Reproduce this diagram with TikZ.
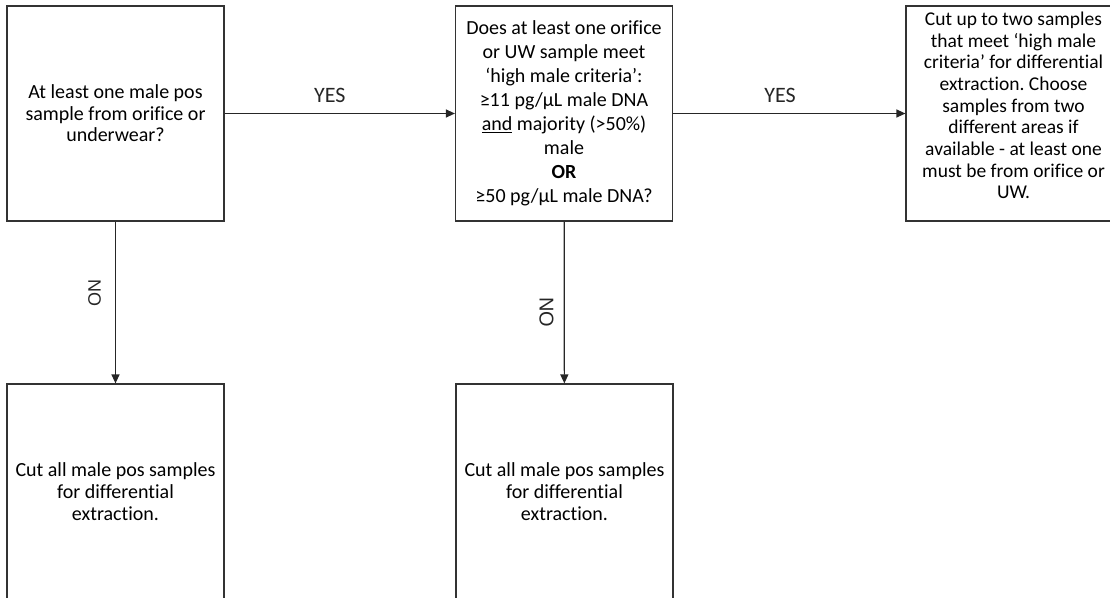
\documentclass[tikz,border=0pt]{standalone}
\usepackage{fontspec}
\setmainfont{Carlito}[Ligatures=CommonOff]
\newfontfamily\nofont{Liberation Sans}
\usetikzlibrary{arrows.meta}
\frenchspacing

\begin{document}
\begin{tikzpicture}[x=1pt, y=-1pt,
    box/.style={draw=black!80, line width=1.2pt, minimum width=217pt, minimum height=215pt, inner sep=0pt, align=center, font=\fontsize{20}{21.5}\selectfont},
    flow/.style={-{Triangle[length=9pt, width=8pt]}, line width=1.2pt, black!85},
    yes/.style={font=\fontsize{22}{26}\selectfont, above=7pt, pos=0.46},
    no/.style={font=\nofont\fontsize{18}{20}\selectfont, rotate=-90, anchor=north}
]
    \useasboundingbox (0,0) rectangle (1110,597);
    \clip (0,0) rectangle (1110,597);

    % Top row
    \node[box] (malepos) at (115.5,113.5) {At least one male pos\\sample from orifice or\\underwear?};
    \node[box, font=\fontsize{20}{24}\selectfont] (highmale) at (564,113.5) {Does at least one orifice\\or UW sample meet\\‘high male criteria’:\\≥11 pg/µL male DNA\\\underline{and} majority (>50\%)\\male\\\textbf{OR}\\≥50 pg/µL male DNA?};
    \node[box] (cuttwo) at (1014.5,113.5) {};
    \node[align=center, font=\fontsize{19.5}{21.7}\selectfont] (cuttwotext) at (1013.5,105.5) {Cut up to two samples\\that meet ‘high male\\criteria’ for differential\\extraction. Choose\\samples from two\\different areas if\\available - at least one\\must be from orifice or\\UW.};

    % Bottom row
    \node[box, font=\fontsize{20}{22}\selectfont] (cutall) at (115.5,491.5) {Cut all male pos samples\\for differential\\extraction.};
    \node[box, font=\fontsize{20}{22}\selectfont] (cutallb) at (564.5,491.5) {Cut all male pos samples\\for differential\\extraction.};

    % Arrows
    \draw[flow] (malepos) -- node[yes, pos=0.457] {YES} (highmale);
    \draw[flow] (highmale) -- node[yes] {YES} (cuttwo.west);
    \draw[flow] (malepos) -- node[no, pos=0.44, inner sep=14pt] {NO} (cutall);
    \draw[flow] (highmale) -- node[no, pos=0.56, inner sep=10pt, font=\nofont\fontsize{20}{22}\selectfont] {NO} (cutallb);
\end{tikzpicture}
\end{document}
